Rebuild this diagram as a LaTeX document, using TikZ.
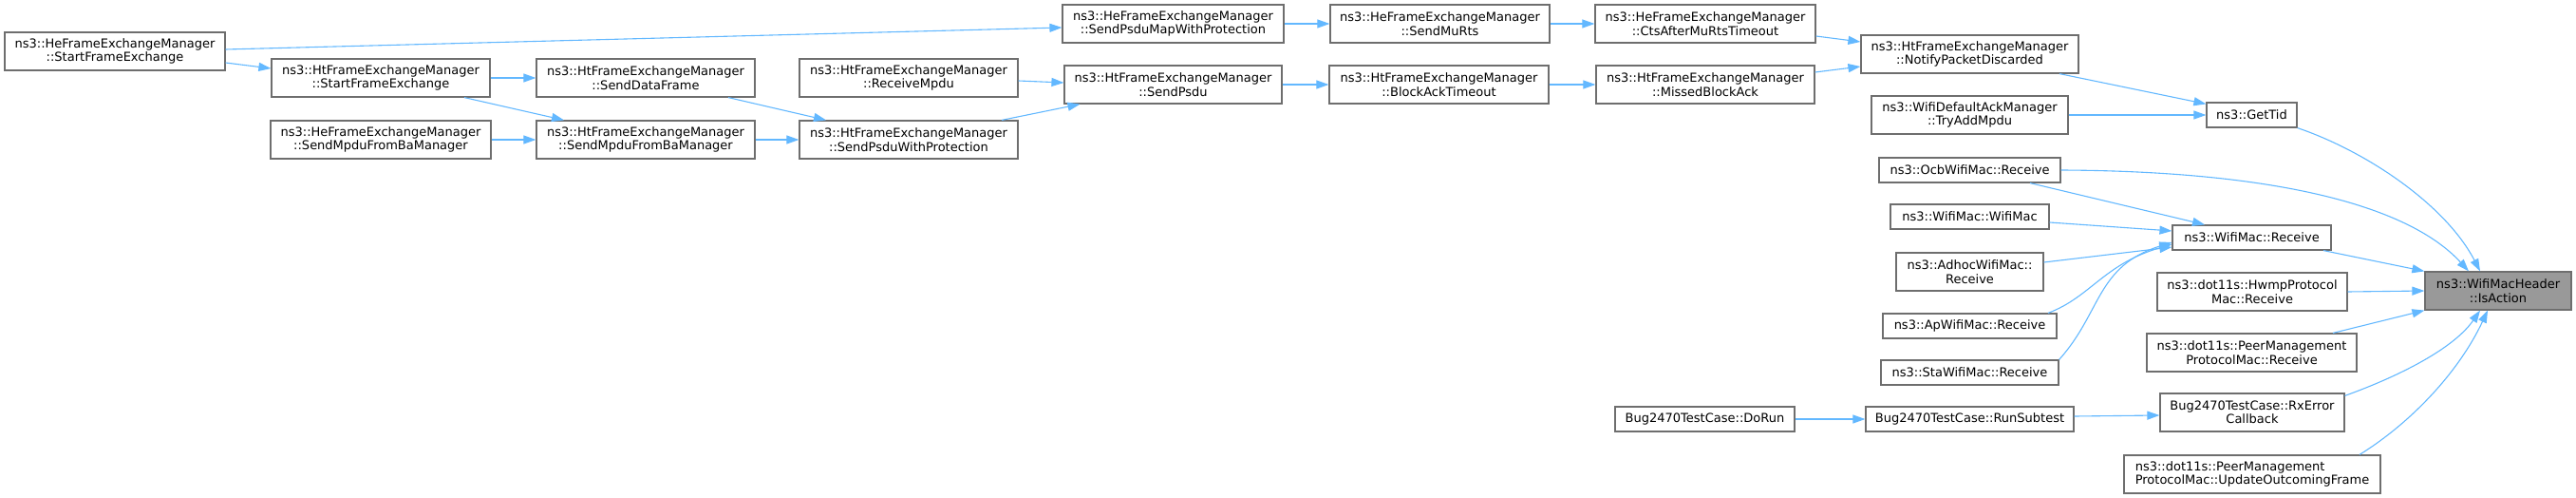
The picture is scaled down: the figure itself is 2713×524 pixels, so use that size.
\documentclass[tikz,border=0pt]{standalone}
\usepackage{fontspec}
\setmainfont{DejaVu Sans}
\usetikzlibrary{arrows.meta}
\definecolor{edgeblue}{RGB}{99,184,255}
\definecolor{boxgray}{RGB}{110,110,110}
\definecolor{fillgray}{RGB}{153,153,153}
\begin{document}
\begin{tikzpicture}[x=1pt,y=-1pt,
  fn/.style={draw=boxgray, line width=1.2pt, fill=white, inner sep=0pt, align=center,
    font=\fontsize{13}{14.5}\selectfont, text=black},
  two/.style={minimum height=40pt},
  one/.style={minimum height=26pt},
  call/.style={draw=edgeblue, line width=1.1pt, -{Triangle[length=13pt,width=9pt]}},
]
\useasboundingbox (0,0) rectangle (2713,524);

% nodes
\node[fn,two,minimum width=232pt] (heStart) at (121,54) {ns3::HeFrameExchangeManager\\::StartFrameExchange};
\node[fn,two,minimum width=230pt] (htStart) at (401,82) {ns3::HtFrameExchangeManager\\::StartFrameExchange};
\node[fn,two,minimum width=232pt] (heSendMpdu) at (401,147) {ns3::HeFrameExchangeManager\\::SendMpduFromBaManager};
\node[fn,two,minimum width=230pt] (sendData) at (680,82) {ns3::HtFrameExchangeManager\\::SendDataFrame};
\node[fn,two,minimum width=230pt] (htSendMpdu) at (680,147) {ns3::HtFrameExchangeManager\\::SendMpduFromBaManager};
\node[fn,two,minimum width=233pt] (psduMap) at (1235.5,25) {ns3::HeFrameExchangeManager\\::SendPsduMapWithProtection};
\node[fn,two,minimum width=230pt] (recvMpdu) at (957,82) {ns3::HtFrameExchangeManager\\::ReceiveMpdu};
\node[fn,two,minimum width=229pt] (sendPsdu) at (1235.5,89) {ns3::HtFrameExchangeManager\\::SendPsdu};
\node[fn,two,minimum width=230pt] (sendPsduProt) at (957,147) {ns3::HtFrameExchangeManager\\::SendPsduWithProtection};
\node[fn,two,minimum width=231pt] (sendMuRts) at (1516.5,25) {ns3::HeFrameExchangeManager\\::SendMuRts};
\node[fn,two,minimum width=231pt] (blockAck) at (1515.5,89) {ns3::HtFrameExchangeManager\\::BlockAckTimeout};
\node[fn,two,minimum width=232pt] (cts) at (1796,25) {ns3::HeFrameExchangeManager\\::CtsAfterMuRtsTimeout};
\node[fn,two,minimum width=230pt] (missed) at (1796,89) {ns3::HtFrameExchangeManager\\::MissedBlockAck};
\node[fn,two,minimum width=229pt] (notify) at (2074.5,57) {ns3::HtFrameExchangeManager\\::NotifyPacketDiscarded};
\node[fn,two,minimum width=207pt] (tryAdd) at (2074.5,121) {ns3::WifiDefaultAckManager\\::TryAddMpdu};
\node[fn,one,minimum width=95pt] (getTid) at (2371.5,121) {ns3::GetTid};
\node[fn,one,minimum width=191pt] (ocb) at (2074.5,179) {ns3::OcbWifiMac::Receive};
\node[fn,one,minimum width=167pt] (wifiMacCtor) at (2074.5,228) {ns3::WifiMac::WifiMac};
\node[fn,two,minimum width=155pt] (adhoc) at (2074.5,286) {ns3::AdhocWifiMac::\\Receive};
\node[fn,one,minimum width=183pt] (ap) at (2074.5,343) {ns3::ApWifiMac::Receive};
\node[fn,one,minimum width=187pt] (sta) at (2074.5,392) {ns3::StaWifiMac::Receive};
\node[fn,one,minimum width=167pt] (wifiRecv) at (2371.5,250) {ns3::WifiMac::Receive};
\node[fn,two,minimum width=200pt] (hwmp) at (2372,307) {ns3::dot11s::HwmpProtocol\\Mac::Receive};
\node[fn,two,minimum width=221pt] (peerRecv) at (2371.5,371) {ns3::dot11s::PeerManagement\\ProtocolMac::Receive};
\node[fn,one,minimum width=189pt] (doRun) at (1795.5,441) {Bug2470TestCase::DoRun};
\node[fn,one,minimum width=219pt] (runSub) at (2074.5,441) {Bug2470TestCase::RunSubtest};
\node[fn,two,minimum width=194pt] (rxErr) at (2372,434) {Bug2470TestCase::RxError\\Callback};
\node[fn,two,minimum width=270pt,align=left] (update) at (2372,499) {ns3::dot11s::PeerManagement\\ProtocolMac::UpdateOutcomingFrame};
\node[fn,two,minimum width=154pt,fill=fillgray] (isAction) at (2631,306) {ns3::WifiMacHeader\\::IsAction};

% edges
\draw[call] ([yshift=2pt]heStart.east) -- ([yshift=-4pt]psduMap.west);
\draw[call] ([yshift=-12pt]heStart.east) -- ([yshift=10pt]htStart.west);
\draw[call] (htStart.east) -- (sendData.west);
\draw[call] ([xshift=88pt]htStart.south) -- ([xshift=-86pt]htSendMpdu.north);
\draw[call] (heSendMpdu.east) -- (htSendMpdu.west);
\draw[call] ([xshift=87pt]sendData.south) -- ([xshift=-87pt]sendPsduProt.north);
\draw[call] (htSendMpdu.east) -- (sendPsduProt.west);
\draw[call] ([yshift=-3pt]recvMpdu.east) -- ([yshift=2pt]sendPsdu.west);
\draw[call] ([xshift=98pt]sendPsduProt.north) -- ([xshift=-98pt]sendPsdu.south);
\draw[call] (psduMap.east) -- (sendMuRts.west);
\draw[call] (sendPsdu.east) -- (blockAck.west);
\draw[call] (sendMuRts.east) -- (cts.west);
\draw[call] (blockAck.east) -- (missed.west);
\draw[call] ([yshift=-13pt]cts.east) -- ([yshift=13pt]notify.west);
\draw[call] ([yshift=13pt]missed.east) -- ([yshift=-13pt]notify.west);
\draw[call] ([xshift=94.5pt]notify.south) -- ([yshift=-2pt]getTid.north west);
\draw[call] (tryAdd.east) -- (getTid.west);
\draw[call] (getTid.south east) .. controls +(71,24) and +(-37,-71) .. ([xshift=-19pt]isAction.north);
\draw[call] (ocb.east) .. controls +(220,1) and +(-65,-71) .. ([xshift=-31pt]isAction.north);
\draw[call] ([xshift=63.5pt]ocb.south) -- ([xshift=-49.5pt]wifiRecv.north);
\draw[call] ([yshift=-6pt]wifiMacCtor.east) -- ([yshift=7pt]wifiRecv.west);
\draw[call] ([yshift=10pt]adhoc.east) -- ([yshift=-10pt]wifiRecv.west);
\draw[call] ([xshift=82.5pt]ap.north) .. controls +(45,-17) and +(-72,21) .. ([yshift=-7pt]wifiRecv.west);
\draw[call] (sta.north east) .. controls +(45,-50) and +(-80,25) .. ([yshift=-5pt]wifiRecv.west);
\draw[call] ([xshift=75.5pt]wifiRecv.south) -- (isAction.north west);
\draw[call] (hwmp.east) -- (isAction.west);
\draw[call] ([xshift=85.5pt]peerRecv.north) -- (isAction.south west);
\draw[call] ([yshift=-3pt]rxErr.north east) .. controls +(61,-22) and +(-27,39) .. ([xshift=-19pt]isAction.south);
\draw[call] ([xshift=113pt]update.north) .. controls +(55,-34) and +(-30,64) .. ([xshift=-11pt]isAction.south);
\draw[call] (doRun.east) -- (runSub.west);
\draw[call] ([yshift=3pt]runSub.east) -- ([yshift=-3pt]rxErr.west);
\end{tikzpicture}
\end{document}
